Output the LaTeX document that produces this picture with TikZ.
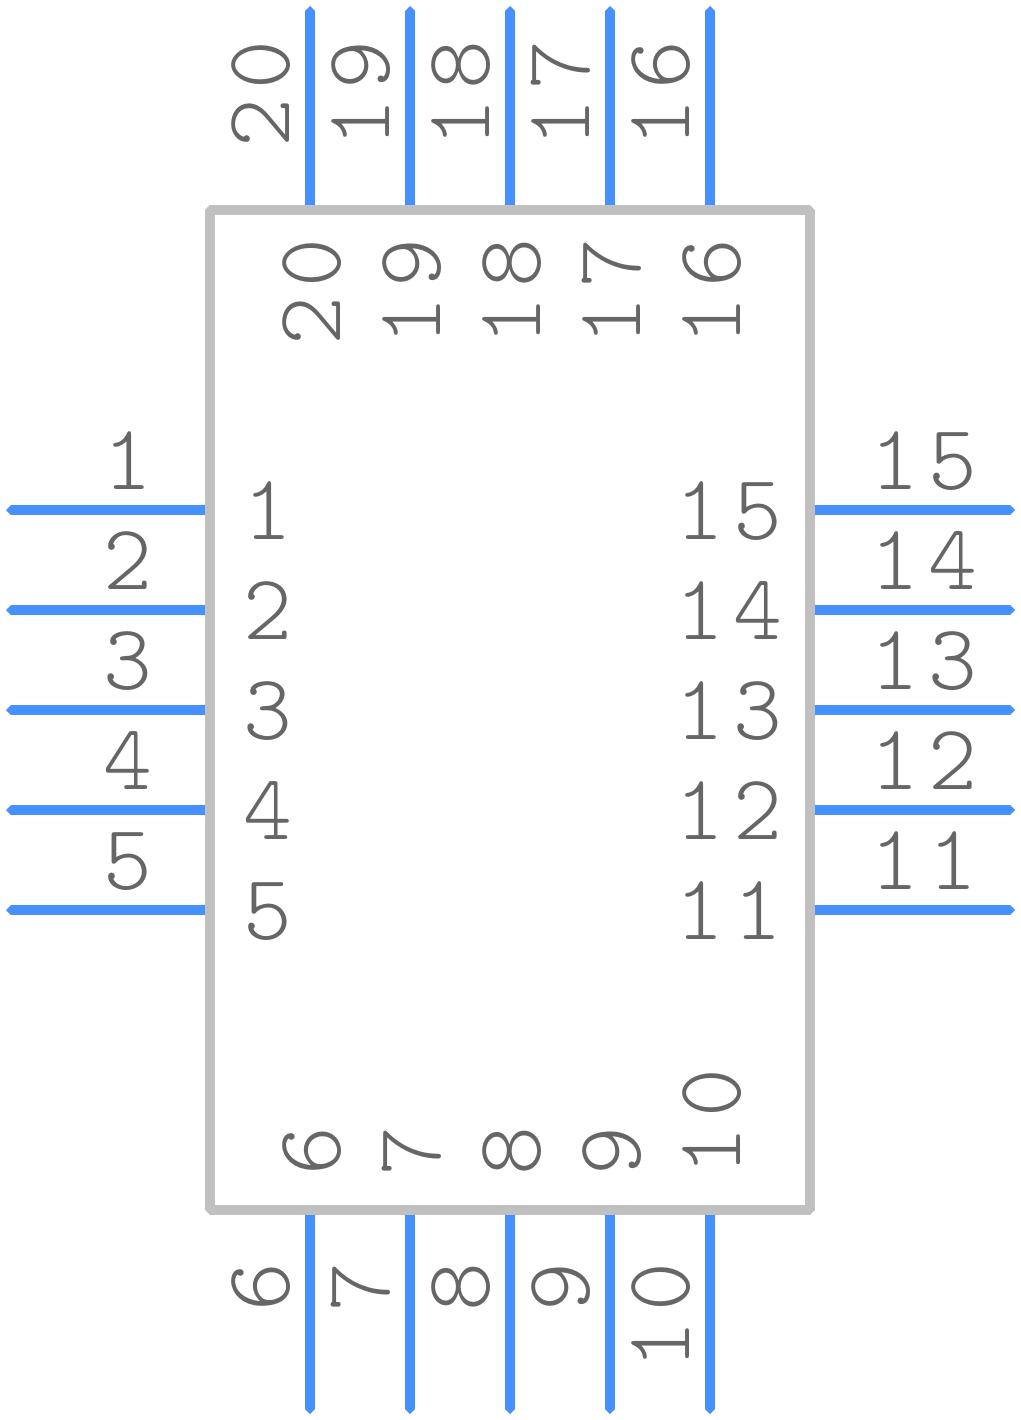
\documentclass[tikz,border=0pt]{standalone}
\usepackage{fontspec}
\setmonofont{Latin Modern Mono Light}
\definecolor{pinblue}{HTML}{4790FF}
\definecolor{bodygrey}{HTML}{C0C0C0}
\definecolor{txtgrey}{HTML}{666666}
\def\spcaux#1#2\relax{#1\ifx\relax#2\relax\else\kern10pt #2\fi}
\def\spc#1{\expandafter\spcaux#1\relax}
\tikzset{
  pinline/.style={draw=pinblue,line width=10pt,line cap=butt},
  bodyline/.style={draw=bodygrey,line width=10pt,line join=bevel},
  numlabel/.style={text=txtgrey,inner sep=0pt,font=\fontsize{93}{93}\selectfont\ttfamily},
  lab/.style={numlabel,anchor=base west},
  labend/.style={numlabel,anchor=base east},
  vlab/.style={numlabel,rotate=90,anchor=base west},
  vlabend/.style={numlabel,rotate=90,anchor=base east}
}
\begin{document}
\begin{tikzpicture}[x=1pt,y=-1pt]
\useasboundingbox (0,0) rectangle (1020,1420);
\fill[white] (0,0) rectangle (1020,1420);
\coordinate (tl) at (210,210);
\coordinate (br) at (810,1210);
% left and right pins
\foreach \n/\yy in {1/510,2/610,3/710,4/810,5/910}{
  \coordinate (tip\n) at (11,\yy);
  \coordinate (end\n) at (210,\yy);
  \draw[pinline] (tip\n) -- (end\n);
  \fill[pinblue] (tip\n) +(0,-5) -- +(-5,0) -- +(0,5) -- cycle;
  \node[labend] (outer\n) at (153,\yy-21) {\n};
  \node[lab] (inner\n) at (243,\yy+29) {\n};
}
\foreach \n/\yy in {15/510,14/610,13/710,12/810,11/910}{
  \coordinate (tip\n) at (1010,\yy);
  \coordinate (end\n) at (810,\yy);
  \draw[pinline] (tip\n) -- (end\n);
  \fill[pinblue] (tip\n) +(0,-5) -- +(5,0) -- +(0,5) -- cycle;
  \node[lab] (outer\n) at (870,\yy-21) {\spc{\n}};
  \node[labend] (inner\n) at (783,\yy+29) {\spc{\n}};
}
% top pins
\foreach \n/\xx in {20/310,19/410,18/510,17/610,16/710}{
  \coordinate (tip\n) at (\xx,11);
  \coordinate (end\n) at (\xx,210);
  \draw[pinline] (tip\n) -- (end\n);
  \fill[pinblue] (tip\n) +(-5,0) -- +(0,-5) -- +(5,0) -- cycle;
  \node[vlab] (outer\n) at (\xx-21,148) {\spc{\n}};
  \node[vlab] (inner\n) at (\xx+30,346) {\spc{\n}};
}
% bottom pins
\foreach \n/\xx in {6/310,7/410,8/510,9/610,10/710}{
  \coordinate (tip\n) at (\xx,1409);
  \coordinate (end\n) at (\xx,1210);
  \draw[pinline] (tip\n) -- (end\n);
  \fill[pinblue] (tip\n) +(-5,0) -- +(0,5) -- +(5,0) -- cycle;
  \node[vlabend] (outer\n) at (\xx-21,1262) {\spc{\n}};
  \node[vlab] (inner\n) at (\xx+30,1176) {\spc{\n}};
}
\draw[bodyline] (tl) rectangle (br);
\end{tikzpicture}
\end{document}
